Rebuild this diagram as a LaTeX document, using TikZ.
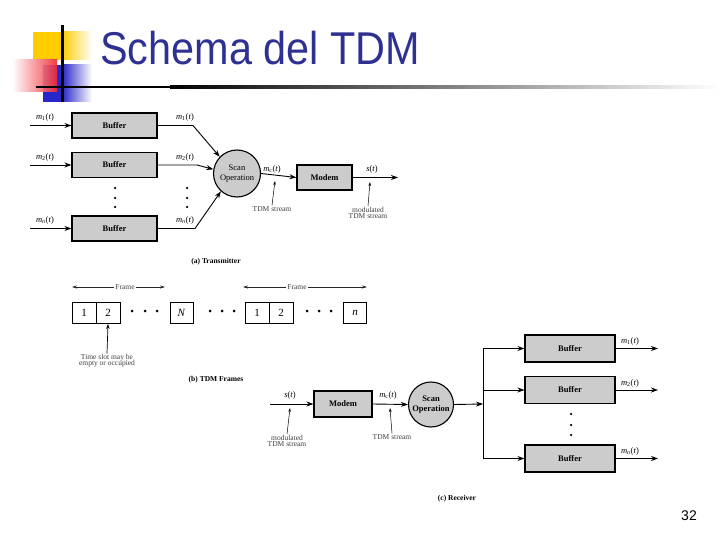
\documentclass[tikz,border=0pt]{standalone}
\usepackage{fontspec}
\setmainfont{Liberation Serif}
\newfontfamily\titlefont{Liberation Sans}
\usetikzlibrary{arrows.meta,shadings}
\definecolor{titleblue}{RGB}{46,49,146}
\definecolor{logoyellow}{RGB}{255,204,0}
\definecolor{logored}{RGB}{240,40,50}
\definecolor{logoblue}{RGB}{40,40,200}
\newcommand{\sg}[1]{\textit{m}\textsubscript{#1}(\textit{t})}
\begin{document}
\begin{tikzpicture}[x=1pt,y=-1pt,
  buf/.style={draw=black, line width=1.1pt, fill=black!20, minimum width=85pt, minimum height=25pt, inner sep=0pt, font=\bfseries\fontsize{8.5}{9}\selectfont},
  scan/.style={circle, draw=black, line width=1.1pt, fill=black!20, minimum size=47pt, inner sep=0pt, align=center, font=\fontsize{8.5}{9.5}\selectfont},
  lbl/.style={font=\fontsize{8.5}{9}\selectfont, inner sep=1pt},
  note/.style={font=\fontsize{7.5}{8}\selectfont, align=center, text=black!75, inner sep=1pt},
  captxt/.style={font=\bfseries\fontsize{7.5}{8}\selectfont, inner sep=1pt},
  sig/.style={line width=0.9pt, -{Stealth[length=7pt,width=5pt]}},
  plain/.style={line width=0.9pt},
  ptr/.style={line width=0.5pt, -{Stealth[length=4pt,width=2.5pt]}},
  dot/.style={circle, fill=black, inner sep=0pt, minimum size=2.5pt},
  slot/.style={draw=black, line width=0.9pt, minimum width=24pt, minimum height=21pt, inner sep=0pt, font=\fontsize{11}{12}\selectfont},
  fdot/.style={circle, fill=black, inner sep=0pt, minimum size=3pt},
  framearr/.style={line width=0.7pt, {Stealth[length=5pt,width=3pt]}-{Stealth[length=5pt,width=3pt]}, black!85}
]
\useasboundingbox (0,0) rectangle (720,540);
\fill[white] (0,0) rectangle (720,540);

% ---- logo and title ----
\fill[logoyellow] (33,32) rectangle (62,60);
\shade[left color=logoyellow, right color=white] (62,32) rectangle (92,60);
\fill[logoblue] (43,65) rectangle (62,102);
\shade[left color=logoblue, right color=white] (62,65) rectangle (92,102);
\shade[left color=white, right color=logored, opacity=0.9] (12,60) rectangle (57,92);
\fill[black] (61,25) rectangle (63.5,102);
\fill[black] (36,86) rectangle (170,88.5);
\shade[left color=black, right color=white] (170,86) rectangle (720,88.5);
\node[anchor=base west, inner sep=0pt, text=titleblue, font=\titlefont\fontsize{46}{50}\selectfont] (title) at (100,65) {\scalebox{0.9}[1]{Schema del TDM}};

% ---- (a) Transmitter ----
\node[buf] (b1) at (114.5,125.5) {Buffer};
\node[buf] (b2) at (114.5,165) {Buffer};
\node[buf] (b3) at (114.5,228.5) {Buffer};
\node[scan] (sc) at (237,173.5) {Scan\\Operation};
\coordinate (i1) at (30,125.5);
\coordinate (i2) at (30,165);
\coordinate (i3) at (30,228.5);
\draw[sig] (i1) -- (b1.west);
\draw[sig] (i2) -- (b2.west);
\draw[sig] (i3) -- (b3.west);
\node[lbl] (li1) at (45,117) {\sg{1}};
\node[lbl] (li2) at (45,157) {\sg{2}};
\node[lbl] (li3) at (45,220) {\sg{\textit{n}}};
\coordinate (o1) at (193,125.5);
\coordinate (o2) at (197,165);
\coordinate (o3) at (195,228.5);
\draw[sig] (b1.east) -- (o1) -- (sc.136);
\draw[sig] (b2.east) -- (o2) -- (sc.170);
\draw[sig] (b3.east) -- (o3) -- (sc.228);
\node[lbl] (lo1) at (185,117) {\sg{1}};
\node[lbl] (lo2) at (185,157) {\sg{2}};
\node[lbl] (lo3) at (185,220) {\sg{\textit{n}}};
\node[dot] (d1) at (115,188) {};
\node[dot] (d2) at (115,198) {};
\node[dot] (d3) at (115,207) {};
\node[dot] (d4) at (187,188) {};
\node[dot] (d5) at (187,198) {};
\node[dot] (d6) at (187,207) {};
\node[buf, minimum width=55pt] (mod) at (324.5,177.5) {Modem};
\draw[sig] (sc.east) -- (mod.west);
\coordinate (tout) at (398,177.5);
\draw[sig] (mod.east) -- (tout);
\node[lbl] (lmc) at (272,169) {\textit{m}\textsubscript{c}(\textit{t})};
\node[lbl] (lst) at (372,169) {\textit{s}(\textit{t})};
\node[note] (ts1) at (272,209) {TDM stream};
\node[note] (ts2) at (368,213) {modulated\\[-2pt]TDM stream};
\coordinate (p1) at (275,181);
\coordinate (p2) at (370,182);
\draw[ptr] (ts1.north) -- (p1);
\draw[ptr] (ts2.north) -- (p2);
\node[captxt] (capa) at (216,262) {(a) Transmitter};

% ---- (b) TDM Frames ----
\node[slot] (s1) at (84,313) {1};
\node[slot] (s2) at (108,313) {2};
\node[slot, minimum width=23pt] (sN) at (181.5,313) {\textit{N}};
\node[slot] (s3) at (257,313) {1};
\node[slot] (s4) at (281,313) {2};
\node[slot, minimum width=23pt] (sn) at (355,313) {\textit{n}};
\node[fdot] (e1) at (132,311) {};
\node[fdot] (e2) at (145,311) {};
\node[fdot] (e3) at (157,311) {};
\node[fdot] (e4) at (210,311) {};
\node[fdot] (e5) at (222,311) {};
\node[fdot] (e6) at (234,311) {};
\node[fdot] (e7) at (307,311) {};
\node[fdot] (e8) at (319,311) {};
\node[fdot] (e9) at (331,311) {};
\coordinate (fa1) at (72,287);
\coordinate (fb1) at (165,287);
\coordinate (fa2) at (243,287);
\coordinate (fb2) at (367,287);
\draw[framearr] (fa1) -- (fb1);
\draw[framearr] (fa2) -- (fb2);
\node[note, fill=white, inner sep=1.5pt] (fl1) at (125,287) {Frame};
\node[note, fill=white, inner sep=1.5pt] (fl2) at (297,287) {Frame};
\node[note] (tsl) at (107,361) {Time slot may be\\[-2pt]empty or occupied};
\draw[line width=0.7pt, -{Stealth[length=5pt,width=3.5pt]}] (tsl.north) -- (s2.south);
\node[captxt] (capb) at (216,380) {(b) TDM Frames};

% ---- (c) Receiver ----
\coordinate (rin) at (270,404);
\node[buf, minimum width=58pt, minimum height=26pt] (rmod) at (343,404) {Modem};
\node[scan, font=\bfseries\fontsize{8.5}{9.5}\selectfont, minimum size=45pt] (rsc) at (431,404.5) {Scan\\Operation};
\draw[sig] (rin) -- (rmod.west);
\draw[sig] (rmod.east) -- (rsc.west);
\coordinate (rv) at (483,404);
\draw[sig] (rsc.east) -- (rv);
\node[lbl] (rls) at (290,395) {\textit{s}(\textit{t})};
\node[lbl] (rlm) at (388,395) {\textit{m}\textsubscript{c}(\textit{t})};
\node[note] (rts1) at (287,441) {modulated\\[-2pt]TDM stream};
\node[note] (rts2) at (392,437) {TDM stream};
\coordinate (rp1) at (290,408);
\coordinate (rp2) at (390,408);
\draw[ptr] (rts1.north) -- (rp1);
\draw[ptr] (rts2.north) -- (rp2);
\node[buf, minimum width=90pt, minimum height=27pt] (rb1) at (570,348.5) {Buffer};
\node[buf, minimum width=90pt, minimum height=27pt] (rb2) at (570,390) {Buffer};
\node[buf, minimum width=90pt, minimum height=27pt] (rb3) at (570,458.5) {Buffer};
\coordinate (vt) at (483,348.5);
\coordinate (vb) at (483,458.5);
\coordinate (vm) at (483,390);
\draw[plain] (vt) -- (vb);
\draw[sig] (vt) -- (rb1.west);
\draw[sig] (vm) -- (rb2.west);
\draw[sig] (vb) -- (rb3.west);
\coordinate (ro1) at (658,348.5);
\coordinate (ro2) at (658,390);
\coordinate (ro3) at (658,458.5);
\draw[sig] (rb1.east) -- (ro1);
\draw[sig] (rb2.east) -- (ro2);
\draw[sig] (rb3.east) -- (ro3);
\node[lbl] (rl1) at (630,341) {\sg{1}};
\node[lbl] (rl2) at (630,383) {\sg{2}};
\node[lbl] (rl3) at (630,451) {\sg{\textit{n}}};
\node[dot] (rd1) at (571,414) {};
\node[dot] (rd2) at (571,425) {};
\node[dot] (rd3) at (571,435) {};
\node[captxt] (capc) at (457,499) {(c) Receiver};

% ---- page number ----
\node[font=\titlefont\fontsize{14}{16}\selectfont] (pg) at (689,516) {32};
\end{tikzpicture}
\end{document}
